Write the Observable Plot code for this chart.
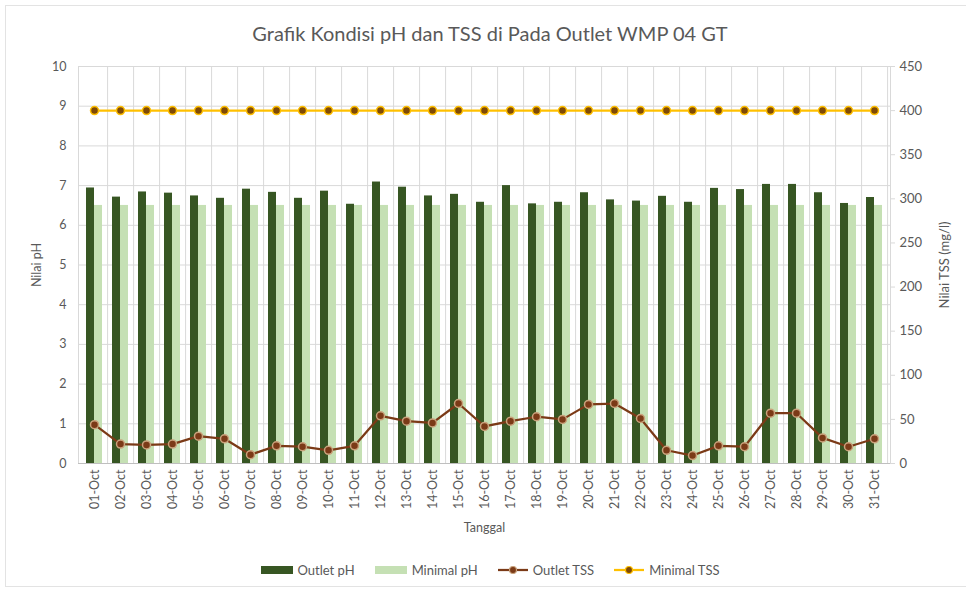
<!DOCTYPE html>
<html>
<head>
<meta charset="utf-8">
<script src="https://cdn.jsdelivr.net/npm/d3@7"></script>
<script src="https://cdn.jsdelivr.net/npm/@observablehq/plot@0.6"></script>
<style>
  html, body { margin: 0; padding: 0; background: #fff; }
  body { width: 966px; height: 593px; position: relative; overflow: hidden; font-family: Lato, "Open Sans", sans-serif; color: #595959; }
  #frame { position: absolute; left: 5px; top: 5px; width: 970px; height: 582px; border: 1px solid #e3e3e3; box-sizing: border-box; }
  #title { position: absolute; left: 0; top: 21px; width: 980px; text-align: center; font-size: 20px; color: #595959; }
  #chart { position: absolute; left: 0; top: 50px; }
  #legend { position: absolute; left: 0; top: 562px; width: 966px; display: flex; justify-content: center; gap: 20px; font-size: 13px; color: #595959; margin-left: 7px; }
  .item { display: flex; align-items: center; gap: 5px; }
</style>
</head>
<body>
<div id="frame"></div>
<div id="title"></div>
<div id="chart"></div>
<div id="legend"></div>
<script>
const titleText = "Grafik Kondisi pH dan TSS di Pada Outlet WMP 04 GT";
const dates = ["01-Oct","02-Oct","03-Oct","04-Oct","05-Oct","06-Oct","07-Oct","08-Oct","09-Oct","10-Oct","11-Oct","12-Oct","13-Oct","14-Oct","15-Oct","16-Oct","17-Oct","18-Oct","19-Oct","20-Oct","21-Oct","22-Oct","23-Oct","24-Oct","25-Oct","26-Oct","27-Oct","28-Oct","29-Oct","30-Oct","31-Oct"];
const outletPH = [6.94,6.71,6.84,6.81,6.74,6.68,6.91,6.83,6.68,6.86,6.53,7.09,6.96,6.74,6.78,6.58,7.00,6.54,6.58,6.82,6.64,6.61,6.73,6.58,6.93,6.90,7.03,7.03,6.82,6.55,6.70];
const minimalPH = 6.5;
const outletTSS = [44,22,21,22,31,28,10,20,19,15,20,54,48,46,68,42,48,53,50,67,68,51,15,9,20,19,57,57,29,19,28];
const minimalTSS = 400;
const phTicks = [0,1,2,3,4,5,6,7,8,9,10];
const tssTicks = [0,50,100,150,200,250,300,350,400,450];
const tssMax = 450, phMax = 10;
const seriesNames = ["Outlet pH","Minimal pH","Outlet TSS","Minimal TSS"];

const C = {
  darkGreen: "#375623",
  lightGreen: "#c5e0b4",
  brown: "#7b3a17",
  brownMarkerStroke: "#c9a27c",
  orange: "#ffc000",
  orangeMarker: "#7f4a06",
  grid: "#d9d9d9",
  text: "#595959"
};

document.getElementById("title").textContent = titleText;

const rows = dates.map((d, i) => ({
  date: d,
  outletPH: outletPH[i],
  minimalPH: minimalPH,
  outletTSS: outletTSS[i],
  minimalTSS: minimalTSS
}));
const toPH = v => v * phMax / tssMax;

const plot = Plot.plot({
  width: 966,
  height: 495,
  marginTop: 16,
  marginBottom: 82,
  marginLeft: 78,
  marginRight: 76,
  style: { fontFamily: "Lato, 'Open Sans', sans-serif", fontSize: "12.5px", color: C.text, background: "transparent" },
  x: { domain: dates, paddingInner: 0.39, paddingOuter: 0.195, align: 0.5 },
  y: { domain: [0, phMax] },
  marks: [
    Plot.gridY(phTicks, { stroke: C.grid, strokeOpacity: 1 }),
    Plot.gridX(dates, { stroke: C.grid, strokeOpacity: 1, dx: 812 / 31 / 2 }),
    Plot.frame({ stroke: C.grid }),
    Plot.barY(rows, { x: "date", y: "outletPH", fill: C.darkGreen, insetRight: 8 }),
    Plot.barY(rows, { x: "date", y: "minimalPH", fill: C.lightGreen, insetLeft: 8 }),
    Plot.ruleY([0], { stroke: "#bfbfbf" }),
    Plot.line(rows, { x: "date", y: d => toPH(d.minimalTSS), stroke: C.orange, strokeWidth: 2.25 }),
    Plot.dot(rows, { x: "date", y: d => toPH(d.minimalTSS), r: 4, fill: C.orangeMarker, stroke: C.orange, strokeWidth: 1.5 }),
    Plot.line(rows, { x: "date", y: d => toPH(d.outletTSS), stroke: C.brown, strokeWidth: 2.25 }),
    Plot.dot(rows, { x: "date", y: d => toPH(d.outletTSS), r: 4, fill: C.brown, stroke: C.brownMarkerStroke, strokeWidth: 1.5 }),
    Plot.axisY(phTicks, { anchor: "left", tickSize: 0, tickPadding: 12, label: "Nilai pH", labelAnchor: "center", labelArrow: "none", labelOffset: 46, fill: C.text }),
    Plot.axisY(tssTicks.map(toPH), { anchor: "right", tickSize: 4, tickPadding: 5, stroke: C.grid, tickFormat: d => String(Math.round(d * tssMax / phMax)), label: "Nilai TSS (mg/l)", labelAnchor: "center", labelArrow: "none", labelOffset: 58, fill: C.text, fontSize: 13 }),
    Plot.axisX({ tickSize: 0, tickRotate: -90, tickPadding: 6, label: "Tanggal", labelAnchor: "center", labelArrow: "none", labelOffset: 68, fill: C.text, fontSize: 12.5 })
  ]
});
document.getElementById("chart").appendChild(plot);

// legend
const legend = document.getElementById("legend");
const symbols = [
  `<svg width="32" height="10"><rect x="0" y="1" width="32" height="8" fill="${C.darkGreen}"/></svg>`,
  `<svg width="32" height="10"><rect x="0" y="1" width="32" height="8" fill="${C.lightGreen}"/></svg>`,
  `<svg width="30" height="10"><line x1="0" y1="5" x2="30" y2="5" stroke="${C.brown}" stroke-width="2.25"/><circle cx="15" cy="5" r="3.5" fill="${C.brown}" stroke="${C.brownMarkerStroke}" stroke-width="1.2"/></svg>`,
  `<svg width="30" height="10"><line x1="0" y1="5" x2="30" y2="5" stroke="${C.orange}" stroke-width="2.25"/><circle cx="15" cy="5" r="3.5" fill="${C.orangeMarker}" stroke="${C.orange}" stroke-width="1.2"/></svg>`
];
seriesNames.forEach((name, i) => {
  const el = document.createElement("div");
  el.className = "item";
  el.innerHTML = symbols[i] + `<span>${name}</span>`;
  legend.appendChild(el);
});
</script>
</body>
</html>
